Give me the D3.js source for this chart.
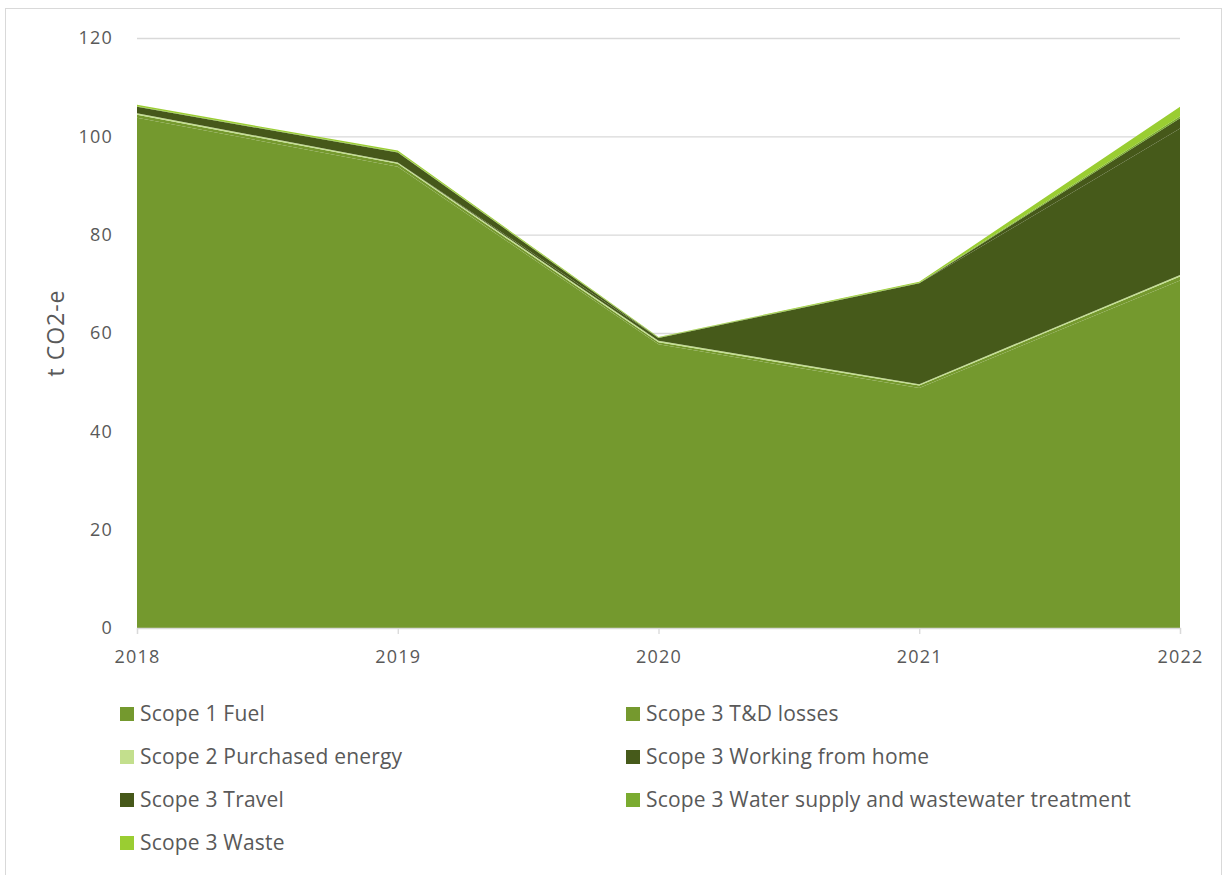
<!DOCTYPE html>
<html><head><meta charset="utf-8">
<script src="https://cdn.jsdelivr.net/npm/d3@7"></script>
<style>
body{margin:0;background:#fff;}
text{font-family:"Open Sans",Lato,sans-serif;fill:#595959;}
</style></head>
<body><svg id="c" width="1225" height="875"></svg>
<script>
const years = ["2018","2019","2020","2021","2022"];
const seriesNames = ["Scope 1 Fuel","Scope 3 T&D losses","Scope 2 Purchased energy","Scope 3 Working from home","Scope 3 Travel","Scope 3 Water supply and wastewater treatment","Scope 3 Waste"];
const scope1Fuel      = [103.8, 93.8, 57.7, 48.8, 70.7];
const scope3TD        = [0.6, 0.6, 0.4, 0.5, 0.8];
const scope2Purchased = [0.3, 0.3, 0.3, 0.3, 0.3];
const scope3WFH       = [0, 0, 0.6, 20.5, 29.8];
const scope3Travel    = [1.3, 2.0, 0, 0, 2.1];
const scope3Water     = [0.1, 0.1, 0.1, 0.1, 0.4];
const scope3Waste     = [0.3, 0.3, 0.1, 0.2, 1.9];
const yTicks = [0,20,40,60,80,100,120];
const colors = ["#74992e","#75992e","#c3df8d","#465a1a","#46581a","#7aab30","#9acd32"];

const values = [scope1Fuel,scope3TD,scope2Purchased,scope3WFH,scope3Travel,scope3Water,scope3Waste];
const rows = years.map((y,i)=>{const r={year:y}; seriesNames.forEach((s,k)=>r[s]=values[k][i]); return r;});

const svg = d3.select("#c");
svg.append("rect").attr("x",5.5).attr("y",8.5).attr("width",1216).attr("height",880)
  .attr("fill","#fff").attr("stroke","#d9d9d9");

const x = d3.scalePoint().domain(years).range([137,1180]);
const y = d3.scaleLinear().domain([0,120]).range([628,38]);

svg.append("g").selectAll("line").data(yTicks.slice(1)).join("line")
  .attr("x1",137).attr("x2",1180).attr("y1",d=>y(d)+0.5).attr("y2",d=>y(d)+0.5)
  .attr("stroke","#d9d9d9").attr("stroke-width",1.3);

const stack = d3.stack().keys(seriesNames)(rows);
const area = d3.area().x(d=>x(d.data.year)).y0(d=>y(d[0])).y1(d=>y(d[1]));
svg.append("g").selectAll("path").data(stack).join("path")
  .attr("d",area).attr("fill",(d,i)=>colors[i]);

// x axis
const xa = svg.append("g").attr("transform","translate(0,628)")
  .call(d3.axisBottom(x).tickSize(6).tickPadding(20));
xa.select(".domain").attr("stroke","#d9d9d9").attr("stroke-width",1.3);
xa.selectAll(".tick line").attr("stroke","#d9d9d9").attr("stroke-width",1.3);
xa.selectAll("text").attr("font-size",18).attr("font-family","Open Sans")
  .attr("letter-spacing",1.2).attr("dy","0.5em").style("fill","#595959");

const ya = svg.append("g").attr("transform","translate(137,0)")
  .call(d3.axisLeft(y).tickValues(yTicks).tickSize(0).tickPadding(24));
ya.select(".domain").remove();
ya.selectAll("text").attr("font-size",18).attr("font-family","Open Sans")
  .attr("letter-spacing",1.2).style("fill","#595959");

svg.append("text").attr("transform","translate(64,333) rotate(-90)")
  .attr("text-anchor","middle").attr("font-size",23).attr("letter-spacing",1).text("t CO2-e");

// legend
const legPos = seriesNames.map((s,i)=>({name:s,color:colors[i],cx:i%2===0?120:626,cy:714+Math.floor(i/2)*43}));
const lg = svg.append("g").selectAll("g").data(legPos).join("g");
lg.append("rect").attr("x",d=>d.cx).attr("y",d=>d.cy-7).attr("width",14).attr("height",14).attr("fill",d=>d.color);
lg.append("text").attr("x",d=>d.cx+20).attr("y",d=>d.cy).attr("dy","0.35em")
  .attr("font-size",21).attr("letter-spacing",0.2).text(d=>d.name);
</script></body></html>
